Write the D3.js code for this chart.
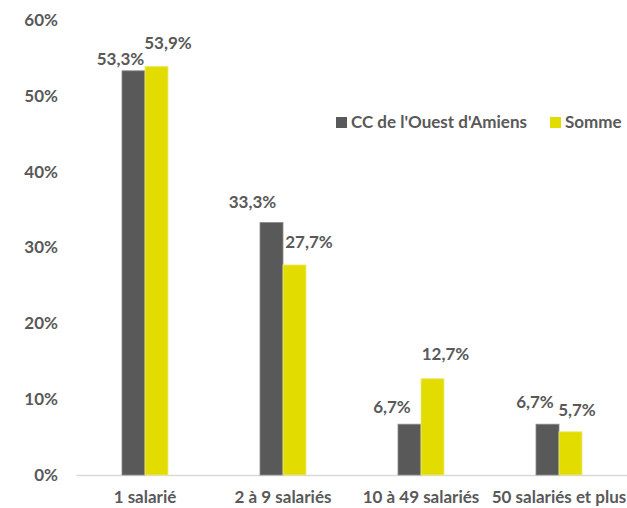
<!DOCTYPE html>
<html><head><meta charset="utf-8">
<script src="https://cdn.jsdelivr.net/npm/d3@7"></script>
<style>
body{margin:0;background:#fff;}
svg text{font-family:Lato,"Open Sans",sans-serif;font-weight:bold;fill:#595959;}
</style></head>
<body><svg id="c" width="627" height="508"></svg>
<script>
const categories = ["1 salarié","2 à 9 salariés","10 à 49 salariés","50 salariés et plus"];
const seriesNames = ["CC de l'Ouest d'Amiens","Somme"];
const ccValues = [53.3, 33.3, 6.7, 6.7];
const sommeValues = [53.9, 27.7, 12.7, 5.7];
const yTicks = [0,10,20,30,40,50,60];
const colors = ["#595959","#e2dc00"];

// label nudges (layout only): [dx, dy] relative to bar top-center (baseline)
const labelNudge = [
  [[-13,-6],[11.5,-17]],
  [[-19,-14.5],[14.5,-17]],
  [[-17.5,-11],[13,-19]],
  [[-12.5,-16],[6.5,-16]]
];
const FS = "17px";

const svg = d3.select("#c");
const y = d3.scaleLinear().domain([0,60]).range([475,20]);
const x0 = d3.scaleBand().domain(categories).range([76,628]);
const x1 = d3.scaleBand().domain([0,1]).range([x0.bandwidth()/2-23, x0.bandwidth()/2+23]);

// y axis labels
const yAxis = d3.axisLeft(y).tickValues(yTicks).tickFormat(d=>d+"%").tickSize(0).tickPadding(0);
const ga = svg.append("g").attr("transform","translate(58,0)").call(yAxis);
ga.select(".domain").remove();
ga.selectAll("text").style("font-size",FS).attr("fill","#595959").style("font-family","Lato,sans-serif").style("font-weight","bold");

// x axis
const xAxis = d3.axisBottom(x0).tickSize(0).tickPadding(16);
const gx = svg.append("g").attr("transform","translate(0,475)").call(xAxis);
gx.select(".domain").attr("stroke","#d9d9d9").attr("stroke-width",1.5);
gx.selectAll("text").style("font-size",FS).attr("fill","#595959").style("font-family","Lato,sans-serif").style("font-weight","bold");

const series = [ccValues, sommeValues];
series.forEach((vals,si)=>{
  svg.append("g").selectAll("rect").data(vals).join("rect")
    .attr("x",(d,i)=>x0(categories[i])+x1(si))
    .attr("y",d=>y(d))
    .attr("width",x1.bandwidth())
    .attr("height",d=>y(0)-y(d))
    .attr("fill",colors[si])
    .attr("stroke", si===0?"#8a8a8a":"#eeeb80").attr("stroke-width",0.8);
  svg.append("g").selectAll("text").data(vals).join("text")
    .attr("x",(d,i)=>x0(categories[i])+x1(si)+x1.bandwidth()/2+labelNudge[i][si][0])
    .attr("y",(d,i)=>y(d)+labelNudge[i][si][1])
    .attr("text-anchor","middle")
    .style("font-size",FS)
    .text(d=>d.toFixed(1).replace(".",",")+"%");
});

// legend
const leg = svg.append("g");
const legX = [336, 550];
seriesNames.forEach((n,i)=>{
  leg.append("rect").attr("x",legX[i]).attr("y",117).attr("width",11).attr("height",11).attr("fill",colors[i]);
  leg.append("text").attr("x",legX[i]+15).attr("y",128).style("font-size",FS).text(n);
});
</script></body></html>
